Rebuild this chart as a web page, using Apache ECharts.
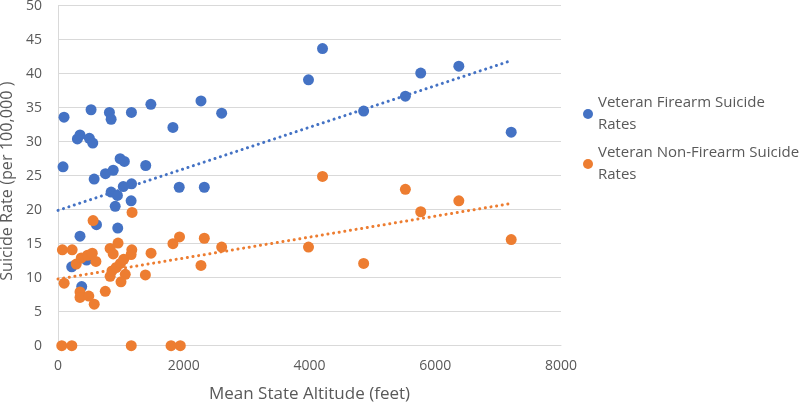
<!DOCTYPE html>
<html>
<head>
<meta charset="utf-8">
<script src="https://cdn.jsdelivr.net/npm/echarts@6/dist/echarts.min.js"></script>
<style>html,body{margin:0;padding:0;background:#fff}#c{width:800px;height:405px}</style>
</head>
<body>
<div id="c"></div>
<script>
// Veteran firearm suicide rates: [mean state altitude (ft), rate per 100,000]
var firearmPoints = [
  [96,33.6],[526,34.7],[818,34.3],[845,33.3],[1168,34.3],[1477,35.5],[1828,32.1],[2274,36.0],[2603,34.2],
  [308,30.4],[350,31.0],[499,30.5],[553,29.8],
  [80,26.3],[988,27.5],[1055,27.1],[1395,26.5],
  [575,24.5],[755,25.3],[878,25.8],
  [845,22.6],[945,22.1],[1038,23.4],[1170,23.8],[910,20.5],[1163,21.3],[1928,23.3],[2327,23.3],
  [612,17.8],[350,16.1],[950,17.3],[218,11.6],[455,12.6],[377,8.7],
  [4207,43.7],[3984,39.1],[4861,34.5],[5525,36.7],[5769,40.1],[6375,41.1],[7208,31.4]
];
// Veteran non-firearm suicide rates
var nonFirearmPoints = [
  [70,14.1],[225,14.1],[558,18.4],[1178,19.6],[955,15.1],[829,14.3],[1174,14.1],[878,13.5],[1163,13.4],
  [1480,13.6],[1828,15.0],[1933,16.0],[2327,15.8],[2603,14.5],[2274,11.8],
  [98,9.2],[290,12.0],[370,12.9],[470,13.3],[545,13.6],[603,12.4],[858,11.0],[925,11.5],[993,12.1],
  [1045,12.7],[829,10.2],[1070,10.5],[1002,9.4],[1390,10.4],[752,8.0],[350,7.9],[350,7.1],[490,7.3],[576,6.1],
  [60,0],[220,0],[1165,0],[1798,0],[1945,0],
  [4207,24.9],[5525,23.0],[6375,21.3],[5769,19.7],[3984,14.5],[4861,12.1],[7208,15.6]
];
// Linear trendline end points
var firearmTrend = [[0,19.9],[7200,41.9]];
var nonFirearmTrend = [[0,9.8],[7200,20.9]];

var seriesNames = ['Veteran Firearm Suicide Rates', 'Veteran Non-Firearm Suicide Rates'];
var colors = ['#4472C4', '#ED7D31'];
var xTitle = 'Mean State Altitude (feet)';
var yTitle = 'Suicide Rate (per 100,000 )';

var FONT = 'Open Sans';
var TXT = '#595959';

var chart = echarts.init(document.getElementById('c'), null, {renderer: 'canvas'});

function legendFor(i, top) {
  return {
    data: [seriesNames[i]],
    orient: 'vertical',
    left: 583,
    top: top,
    padding: 0,
    icon: 'circle',
    itemWidth: 10,
    itemHeight: 10,
    selectedMode: false,
    formatter: function (n) { return n.replace(' Rates', '\nRates'); },
    textStyle: {
      fontFamily: FONT, fontSize: 15, color: TXT, lineHeight: 22,
      padding: [22, 0, 0, 0]
    }
  };
}

chart.setOption({
  animation: false,
  backgroundColor: '#fff',
  color: colors,
  grid: {left: 58, right: 239, top: 5.7, bottom: 59.3, containLabel: false, outerBoundsMode: 'none'},
  legend: [legendFor(0, 81), legendFor(1, 131)],
  xAxis: {
    type: 'value', min: 0, max: 8000, interval: 2000,
    name: xTitle, nameLocation: 'middle', nameGap: 40,
    nameTextStyle: {fontFamily: FONT, fontSize: 17, color: TXT},
    axisLine: {show: true, lineStyle: {color: '#d9d9d9', width: 1}},
    axisTick: {show: false},
    splitLine: {show: false},
    axisLabel: {fontFamily: FONT, fontSize: 14, color: TXT, margin: 13,
      formatter: function (v) { return String(v); }}
  },
  yAxis: {
    type: 'value', min: 0, max: 50, interval: 5,
    name: yTitle, nameLocation: 'middle', nameGap: 40, nameRotate: 90,
    nameTextStyle: {fontFamily: FONT, fontSize: 16.2, color: TXT, padding: [0, 11, 0, 0]},
    axisLine: {show: true, lineStyle: {color: '#d9d9d9', width: 1}},
    axisTick: {show: false},
    splitLine: {show: true, lineStyle: {color: '#d9d9d9', width: 1}},
    axisLabel: {fontFamily: FONT, fontSize: 14, color: TXT, margin: 16}
  },
  series: [
    {
      name: seriesNames[0], type: 'scatter', data: firearmPoints,
      symbolSize: 11, itemStyle: {color: colors[0], opacity: 1}, z: 3
    },
    {
      name: seriesNames[1], type: 'scatter', data: nonFirearmPoints,
      symbolSize: 11, itemStyle: {color: colors[1], opacity: 1}, z: 4
    },
    {
      name: 'firearmTrend', type: 'line', data: firearmTrend, showSymbol: false, symbol: 'none',
      silent: true, z: 5,
      lineStyle: {color: colors[0], width: 3, type: [0.1, 5.6], cap: 'round'}
    },
    {
      name: 'nonFirearmTrend', type: 'line', data: nonFirearmTrend, showSymbol: false, symbol: 'none',
      silent: true, z: 5,
      lineStyle: {color: colors[1], width: 3, type: [0.1, 5.6], cap: 'round'}
    }
  ]
});
</script>
</body>
</html>
